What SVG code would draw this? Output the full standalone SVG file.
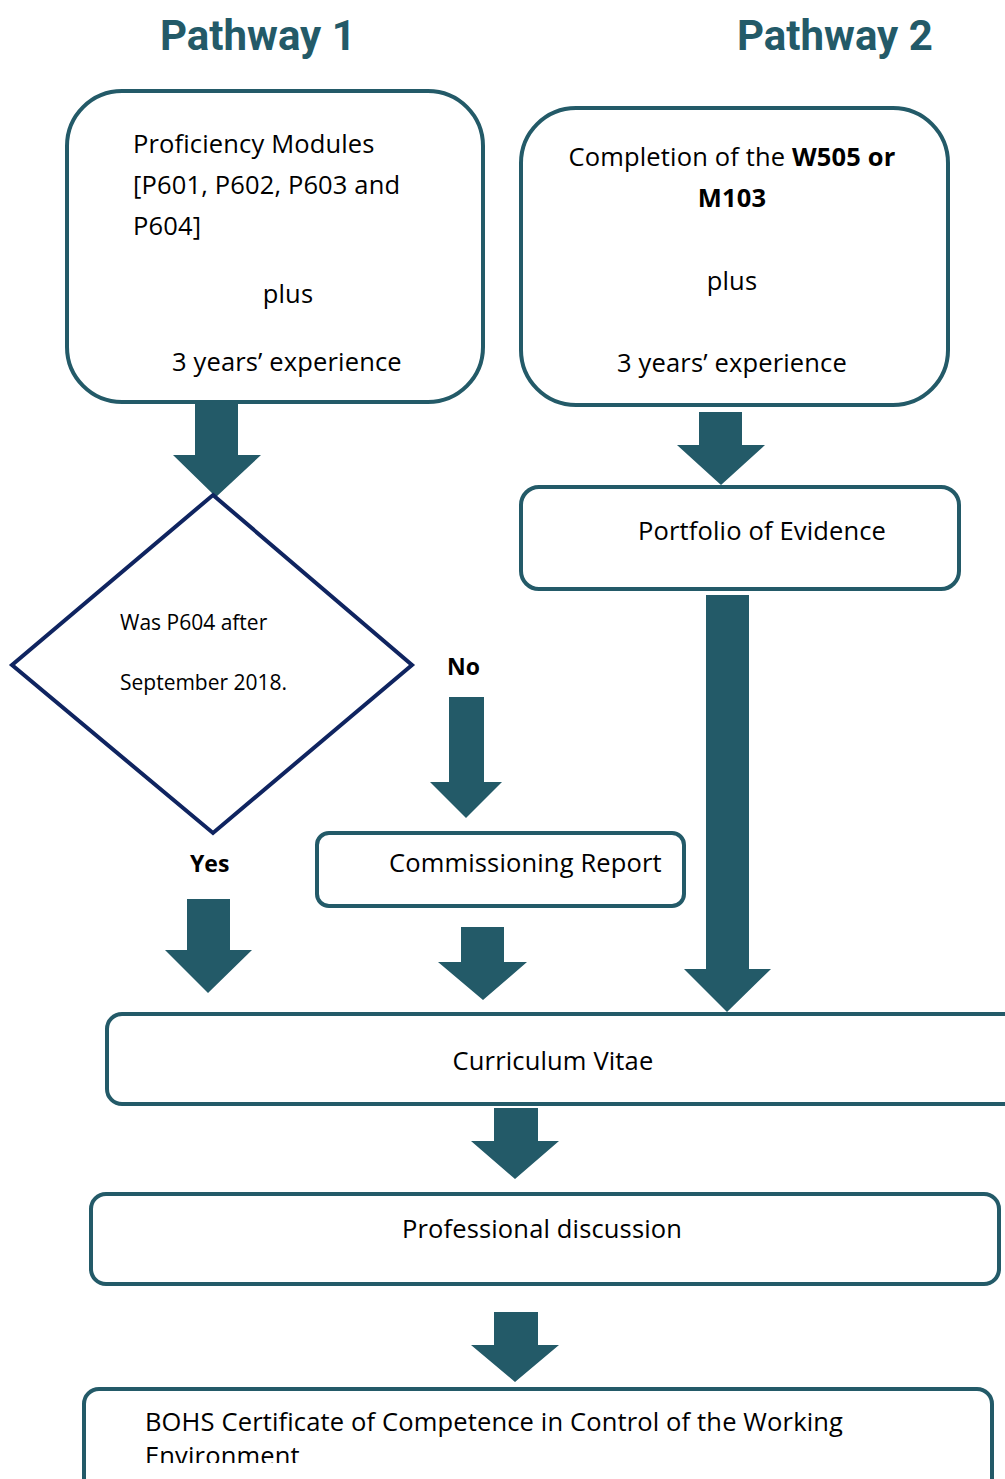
<svg xmlns="http://www.w3.org/2000/svg" width="1005" height="1479" viewBox="0 0 1005 1479">
<style>
.box{fill:#fff;stroke:#235a68;stroke-width:4}
.dia{fill:#fff;stroke:#0f2460;stroke-width:4}
.arr{fill:#235a68}
.t{font-family:"Open Sans","DejaVu Sans",sans-serif;font-size:25.5px;letter-spacing:0.15px;fill:#000}
.s{font-family:"Open Sans","DejaVu Sans",sans-serif;font-size:21px;fill:#000}
.b{font-family:"Open Sans","DejaVu Sans",sans-serif;font-size:23px;font-weight:bold;fill:#000}
.h{font-family:Roboto,"Liberation Sans",sans-serif;font-size:42px;font-weight:bold;fill:#235a68}
</style>
<defs>
<clipPath id="bottomclip"><rect x="0" y="0" width="1005" height="1463"/></clipPath>
</defs>
<rect width="1005" height="1479" fill="#fff"/>
<g id="titles">
<text class="h" x="160" y="50">Pathway 1</text>
<text class="h" x="737" y="50">Pathway 2</text>
</g>
<g id="connectors">
<polygon class="arr" points="195,400 238,400 238,455 261,455 216,497 173,455 195,455"/>
<polygon class="arr" points="449,697 484,697 484,782 502,782 466,818 430,782 449,782"/>
<polygon class="arr" points="187,899 230,899 230,950 252,950 208,993 165,950 187,950"/>
<polygon class="arr" points="461,927 504,927 504,962 527,962 483,1000 438,962 461,962"/>
<polygon class="arr" points="699,412 742,412 742,445 765,445 721,485 677,445 699,445"/>
<polygon class="arr" points="706,595 749,595 749,969 771,969 727,1012 684,969 706,969"/>
<polygon class="arr" points="494,1108 538,1108 538,1141 559,1141 515,1179 471,1141 494,1141"/>
<polygon class="arr" points="494,1312 538,1312 538,1345 559,1345 515,1382 471,1345 494,1345"/>
</g>
<g id="node-proficiency">
<rect class="box" x="67" y="91" width="416" height="311" rx="55" ry="55"/>
<text class="t" x="133" y="153">Proficiency Modules</text>
<text class="t" x="133" y="194">[P601, P602, P603 and</text>
<text class="t" x="133" y="235">P604]</text>
<text class="t" x="288" y="303" text-anchor="middle">plus</text>
<text class="t" x="172" y="371">3 years’ experience</text>
</g>
<g id="node-completion">
<rect class="box" x="521" y="108" width="427" height="297" rx="55" ry="55"/>
<text class="t" x="732" y="166" text-anchor="middle">Completion of the <tspan font-weight="bold">W505 or</tspan></text>
<text class="t" x="732" y="207" text-anchor="middle" font-weight="bold">M103</text>
<text class="t" x="732" y="290" text-anchor="middle">plus</text>
<text class="t" x="732" y="372" text-anchor="middle">3 years’ experience</text>
</g>
<g id="node-decision">
<polygon class="dia" points="213,495 412,665 213,833 12,665"/>
<text class="s" x="120" y="630">Was P604 after</text>
<text class="s" x="120" y="690">September 2018.</text>
</g>
<g id="label-no"><text class="b" x="447" y="675">No</text></g>
<g id="label-yes"><text class="b" x="190" y="872">Yes</text></g>
<g id="node-portfolio">
<rect class="box" x="521" y="487" width="438" height="102" rx="18" ry="18"/>
<text class="t" x="638" y="540">Portfolio of Evidence</text>
</g>
<g id="node-commissioning">
<rect class="box" x="317" y="833" width="367" height="73" rx="12" ry="12"/>
<text class="t" x="389" y="872">Commissioning Report</text>
</g>
<g id="node-cv">
<rect class="box" x="107" y="1014" width="920" height="90" rx="15" ry="15"/>
<text class="t" x="553" y="1070" text-anchor="middle">Curriculum Vitae</text>
</g>
<g id="node-discussion">
<rect class="box" x="91" y="1194" width="908" height="90" rx="15" ry="15"/>
<text class="t" x="542" y="1238" text-anchor="middle">Professional discussion</text>
</g>
<g id="node-bohs">
<rect class="box" x="84" y="1389" width="908" height="110" rx="15" ry="15"/>
<g clip-path="url(#bottomclip)">
<text class="t" x="145" y="1431">BOHS Certificate of Competence in Control of the Working</text>
<text class="t" x="145" y="1465">Environment</text>
</g>
</g>
</svg>
